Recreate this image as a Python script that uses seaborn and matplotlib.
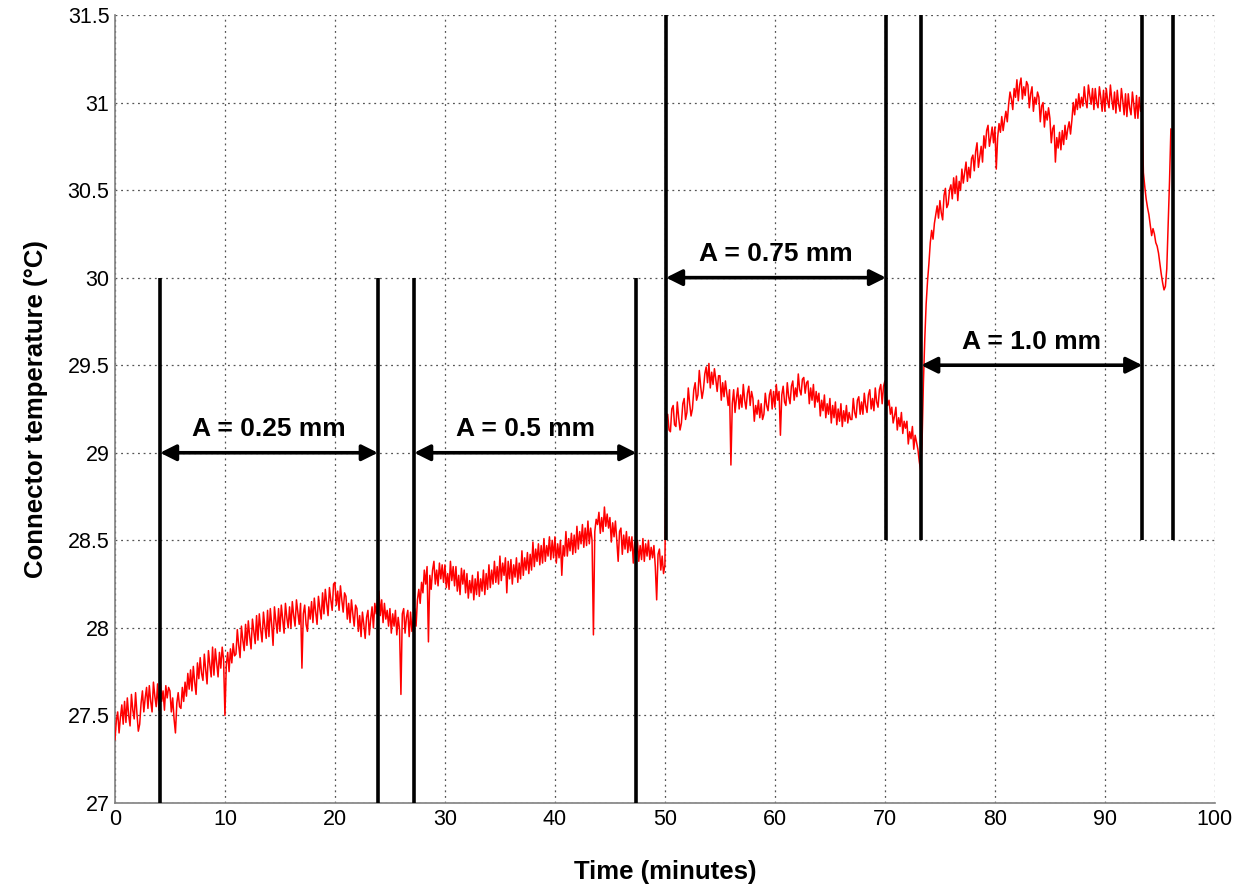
import numpy as np
import pandas as pd
import matplotlib
matplotlib.use("Agg")
import matplotlib.pyplot as plt
import seaborn as sns

# Connector temperature logged every 7.5 s (0.125 min), in degrees C;
# one row of eight readings per minute
temperature = [
    27.36, 27.47, 27.52, 27.40, 27.49, 27.56, 27.45, 27.58,
    27.46, 27.60, 27.50, 27.44, 27.62, 27.53, 27.48, 27.63,
    27.51, 27.41, 27.45, 27.57, 27.64, 27.52, 27.60, 27.66,
    27.54, 27.67, 27.58, 27.52, 27.69, 27.61, 27.55, 27.68,
    27.53, 27.70, 27.58, 27.64, 27.53, 27.67, 27.60, 27.66,
    27.64, 27.52, 27.60, 27.48, 27.40, 27.57, 27.63, 27.55,
    27.54, 27.66, 27.58, 27.69, 27.61, 27.74, 27.65, 27.76,
    27.64, 27.78, 27.69, 27.62, 27.80, 27.71, 27.83, 27.74,
    27.70, 27.85, 27.76, 27.68, 27.87, 27.79, 27.72, 27.89,
    27.73, 27.88, 27.80, 27.72, 27.86, 27.77, 27.89, 27.82,
    27.50, 27.79, 27.86, 27.75, 27.88, 27.80, 27.91, 27.84,
    27.85, 27.99, 27.90, 27.83, 28.01, 27.93, 27.87, 28.02,
    27.90, 28.04, 27.95, 27.88, 28.05, 27.98, 27.91, 28.07,
    27.93, 28.08, 27.99, 27.92, 28.09, 28.01, 27.94, 28.10,
    27.95, 28.11, 28.02, 27.90, 28.12, 28.04, 27.97, 28.11,
    27.98, 28.13, 28.05, 27.97, 28.14, 28.06, 28.00, 28.12,
    28.00, 28.15, 28.07, 28.01, 28.16, 28.09, 28.02, 28.14,
    27.77, 28.08, 28.13, 28.02, 27.98, 28.12, 28.05, 28.15,
    28.03, 28.17, 28.09, 28.02, 28.18, 28.11, 28.05, 28.20,
    28.08, 28.22, 28.14, 28.07, 28.23, 28.16, 28.10, 28.25,
    28.26, 28.13, 28.21, 28.10, 28.24, 28.16, 28.09, 28.20,
    28.18, 28.05, 28.14, 28.03, 28.16, 28.08, 28.01, 28.13,
    28.11, 27.98, 28.07, 27.95, 28.09, 28.02, 27.94, 28.06,
    28.10, 27.96, 28.05, 28.12, 28.00, 28.14, 28.08, 28.16,
    28.21, 28.07, 28.16, 28.03, 28.14, 28.05, 28.10, 28.01,
    28.11, 27.97, 28.08, 28.01, 28.10, 27.96, 28.06, 27.99,
    27.62, 28.08, 28.11, 27.97, 28.06, 28.10, 27.95, 28.09,
    27.98, 28.05, 28.11, 28.01, 28.16, 28.22, 28.14, 28.26,
    28.20, 28.33, 28.25, 28.35, 27.92, 28.30, 28.22, 28.33,
    28.38, 28.25, 28.33, 28.24, 28.37, 28.28, 28.36, 28.26,
    28.36, 28.23, 28.31, 28.22, 28.38, 28.27, 28.35, 28.24,
    28.35, 28.21, 28.30, 28.19, 28.34, 28.25, 28.33, 28.20,
    28.31, 28.17, 28.27, 28.20, 28.30, 28.16, 28.28, 28.19,
    28.32, 28.18, 28.28, 28.21, 28.33, 28.19, 28.31, 28.22,
    28.36, 28.23, 28.33, 28.25, 28.38, 28.26, 28.35, 28.25,
    28.41, 28.27, 28.37, 28.30, 28.40, 28.20, 28.38, 28.28,
    28.39, 28.25, 28.36, 28.29, 28.40, 28.26, 28.37, 28.28,
    28.44, 28.30, 28.40, 28.33, 28.43, 28.31, 28.42, 28.33,
    28.49, 28.35, 28.45, 28.38, 28.48, 28.36, 28.47, 28.37,
    28.51, 28.38, 28.47, 28.41, 28.52, 28.39, 28.50, 28.40,
    28.52, 28.37, 28.48, 28.40, 28.50, 28.30, 28.47, 28.41,
    28.55, 28.41, 28.51, 28.44, 28.54, 28.42, 28.53, 28.43,
    28.58, 28.45, 28.55, 28.48, 28.59, 28.46, 28.57, 28.47,
    28.61, 28.48, 28.57, 28.50, 27.96, 28.55, 28.62, 28.59,
    28.66, 28.54, 28.63, 28.55, 28.69, 28.58, 28.65, 28.57,
    28.63, 28.49, 28.60, 28.52, 28.61, 28.50, 28.38, 28.55,
    28.57, 28.42, 28.53, 28.45, 28.55, 28.43, 28.52, 28.44,
    28.52, 28.37, 28.49, 28.40, 28.50, 28.38, 28.47, 28.39,
    28.51, 28.38, 28.48, 28.41, 28.50, 28.39, 28.46, 28.40,
    28.47, 28.35, 28.16, 28.42, 28.45, 28.33, 28.41, 28.31,
    28.36, 29.20, 29.22, 29.13, 29.12, 29.25, 29.27, 29.16,
    29.15, 29.29, 29.20, 29.13, 29.17, 29.28, 29.31, 29.19,
    29.23, 29.37, 29.28, 29.21, 29.25, 29.36, 29.40, 29.30,
    29.33, 29.47, 29.38, 29.31, 29.36, 29.45, 29.49, 29.40,
    29.51, 29.37, 29.46, 29.39, 29.48, 29.42, 29.35, 29.44,
    29.44, 29.30, 29.40, 29.32, 29.41, 29.34, 29.27, 29.36,
    28.93, 29.28, 29.36, 29.23, 29.31, 29.37, 29.25, 29.33,
    29.26, 29.39, 29.30, 29.25, 29.34, 29.38, 29.27, 29.35,
    29.31, 29.18, 29.27, 29.22, 29.30, 29.20, 29.28, 29.19,
    29.22, 29.34, 29.27, 29.24, 29.33, 29.36, 29.25, 29.35,
    29.26, 29.39, 29.30, 29.35, 29.10, 29.33, 29.38, 29.29,
    29.27, 29.40, 29.32, 29.28, 29.38, 29.41, 29.30, 29.37,
    29.32, 29.45, 29.36, 29.33, 29.42, 29.43, 29.34, 29.40,
    29.41, 29.28, 29.37, 29.30, 29.39, 29.26, 29.35, 29.29,
    29.34, 29.21, 29.30, 29.24, 29.33, 29.20, 29.28, 29.22,
    29.31, 29.17, 29.27, 29.20, 29.29, 29.16, 29.25, 29.18,
    29.28, 29.15, 29.24, 29.18, 29.27, 29.17, 29.23, 29.19,
    29.19, 29.31, 29.23, 29.20, 29.30, 29.32, 29.22, 29.29,
    29.22, 29.34, 29.27, 29.23, 29.33, 29.36, 29.25, 29.31,
    29.24, 29.37, 29.29, 29.26, 29.36, 29.39, 29.28, 29.38,
    29.41, 29.33, 29.27, 29.30, 29.22, 29.26, 29.17, 29.21,
    29.26, 29.13, 29.20, 29.15, 29.23, 29.11, 29.18, 29.14,
    29.18, 29.05, 29.12, 29.08, 29.15, 29.02, 29.10, 29.06,
    29.02, 28.95, 28.90, 29.05, 29.40, 29.65, 29.85, 29.98,
    30.08, 30.20, 30.27, 30.22, 30.31, 30.36, 30.41, 30.34,
    30.44, 30.37, 30.33, 30.47, 30.51, 30.40, 30.42, 30.50,
    30.53, 30.45, 30.57, 30.48, 30.58, 30.44, 30.55, 30.50,
    30.62, 30.54, 30.60, 30.66, 30.55, 30.63, 30.57, 30.68,
    30.70, 30.61, 30.72, 30.77, 30.63, 30.69, 30.75, 30.66,
    30.81, 30.74, 30.84, 30.87, 30.75, 30.80, 30.86, 30.77,
    30.86, 30.62, 30.80, 30.88, 30.83, 30.92, 30.84, 30.90,
    30.95, 30.89, 30.99, 31.06, 31.02, 30.96, 31.08, 31.03,
    31.13, 31.01, 31.10, 31.14, 31.02, 31.09, 31.04, 31.12,
    31.10, 30.97, 31.05, 31.09, 30.95, 31.03, 30.99, 31.06,
    31.03, 30.89, 30.98, 31.00, 30.86, 30.95, 30.90, 30.97,
    30.91, 30.77, 30.85, 30.87, 30.66, 30.80, 30.74, 30.83,
    30.73, 30.84, 30.76, 30.87, 30.79, 30.85, 30.89, 30.82,
    30.90, 31.00, 30.93, 31.02, 30.96, 31.05, 30.97, 31.03,
    30.98, 31.09, 31.01, 30.97, 31.10, 31.04, 30.99, 31.08,
    30.96, 31.08, 31.00, 30.97, 31.09, 31.03, 30.95, 31.07,
    30.95, 31.08, 31.01, 30.97, 31.10, 31.02, 30.96, 31.06,
    30.94, 31.07, 30.99, 30.95, 31.08, 31.01, 30.93, 31.05,
    30.92, 31.05, 30.97, 30.93, 31.06, 30.99, 30.91, 31.04,
    30.91, 31.03, 30.95, 30.99, 30.60, 30.52, 30.45, 30.40,
    30.36, 30.30, 30.24, 30.28, 30.25, 30.20, 30.18, 30.14,
    30.08, 30.02, 29.97, 29.93, 29.95, 30.05, 30.30, 30.55,
    30.85,
]
time_min = np.arange(len(temperature)) * 0.125

# Start/end of each vibration-amplitude test window (minutes)
window_start = [4.1, 27.2, 50.1, 73.3]
window_end = [23.9, 47.4, 70.1, 93.4]
marker_bottom = [27.0, 27.0, 28.5, 28.5]
marker_top = [30.0, 30.0, 31.5, 31.5]
final_marker = 96.2

# Amplitude labels and the level of their span arrows
amplitude_labels = ["A = 0.25 mm", "A = 0.5 mm", "A = 0.75 mm", "A = 1.0 mm"]
arrow_level = [29.0, 29.0, 30.0, 29.5]

sns.set_theme(style="whitegrid")
plt.rcParams["font.family"] = ["Liberation Sans", "DejaVu Sans"]

fig = plt.figure(figsize=(12.44, 8.92), dpi=100)
ax = fig.add_axes([0.0924, 0.0998, 0.8842, 0.8834])

df = pd.DataFrame({"Time": time_min, "Temperature": temperature})
sns.lineplot(data=df, x="Time", y="Temperature", ax=ax, color="#ff0000",
             linewidth=1.1, estimator=None, zorder=3)

# Window boundary markers
for s, e, lo, hi in zip(window_start, window_end, marker_bottom, marker_top):
    ax.vlines([s, e], lo, hi, colors="black", linewidth=2.6, zorder=4)
ax.vlines(final_marker, marker_bottom[-1], marker_top[-1], colors="black",
          linewidth=2.6, zorder=4)

# Double-headed span arrows with amplitude labels
for s, e, lvl, lab in zip(window_start, window_end, arrow_level, amplitude_labels):
    ax.annotate("", xy=(e, lvl), xytext=(s, lvl),
                arrowprops=dict(arrowstyle="<|-|>", color="black", lw=2.6,
                                mutation_scale=24, shrinkA=0, shrinkB=0),
                zorder=5)
    ax.text((s + e) / 2, lvl + 0.065, lab, ha="center", va="bottom",
            fontsize=19, fontweight="bold", color="black", zorder=5)

ax.set_xlim(0, 100)
ax.set_ylim(27, 31.5)
ax.set_xticks(np.arange(0, 101, 10))
ax.set_yticks(np.arange(27, 31.51, 0.5))
ax.set_yticklabels(["27", "27.5", "28", "28.5", "29", "29.5", "30", "30.5", "31", "31.5"])

ax.grid(True, color="#555555", linestyle=(0, (1.5, 3)), linewidth=0.9)
ax.set_facecolor("white")
for side in ("top", "right"):
    ax.spines[side].set_visible(False)
for side in ("left", "bottom"):
    ax.spines[side].set_visible(True)
    ax.spines[side].set_color("#808080")
    ax.spines[side].set_linewidth(1.2)

ax.tick_params(axis="both", labelsize=15.5, colors="black", direction="in",
               length=4, pad=4)
ax.set_xlabel("Time (minutes)", fontsize=18.5, fontweight="bold", labelpad=22,
              color="black")
ax.set_ylabel("Connector temperature (°C)", fontsize=18.5, fontweight="bold",
              labelpad=14, color="black")

fig.savefig("out.png", dpi=100, facecolor="white")
